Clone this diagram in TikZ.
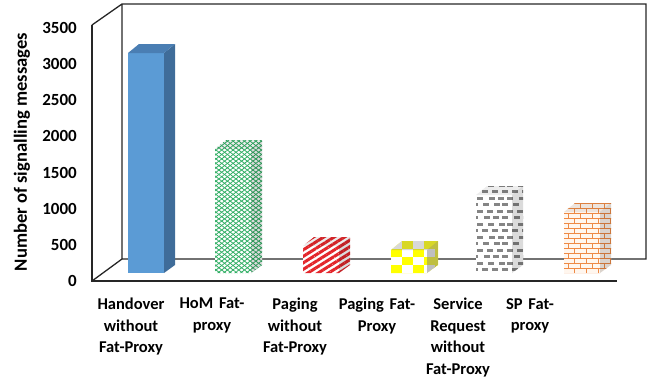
\documentclass[tikz,border=0pt]{standalone}
\usepackage{fontspec}
\setmainfont{Carlito}
\usetikzlibrary{patterns.meta}

\definecolor{barblue}{HTML}{5B9BD5}
\definecolor{barblueside}{HTML}{3F6C99}
\definecolor{barbluetop}{HTML}{4A7EB3}
\definecolor{latgreen}{HTML}{2FAE63}
\definecolor{stripered}{HTML}{E3262B}
\definecolor{chkyellow}{HTML}{FFFF00}
\definecolor{dashgray}{HTML}{858585}
\definecolor{brickorange}{HTML}{EE8A45}
\definecolor{brickbg}{HTML}{FFF6EE}

% corner coordinates of a 3-D column: #1 prefix, #2 left x, #3 top y of front face
\newcommand\colcorners[3]{%
  \coordinate (#1-a) at (#2,273);
  \coordinate (#1-b) at (#2+36,273);
  \coordinate (#1-c) at (#2+36,#3);
  \coordinate (#1-d) at (#2,#3);
  \coordinate (#1-e) at (#2+47,265);
  \coordinate (#1-f) at (#2+47,#3-9);
  \coordinate (#1-g) at (#2+11,#3-9);
}
\newcommand\colhull[1]{(#1-a) -- (#1-b) -- (#1-e) -- (#1-f) -- (#1-g) -- (#1-d) -- cycle}
\newcommand\colfront[1]{(#1-a) -- (#1-b) -- (#1-c) -- (#1-d) -- cycle}
\newcommand\colside[1]{(#1-b) -- (#1-e) -- (#1-f) -- (#1-c) -- cycle}
\newcommand\coltop[1]{(#1-d) -- (#1-c) -- (#1-f) -- (#1-g) -- cycle}
% darken side and top faces of a patterned column
\newcommand\colshade[1]{%
  \fill[black,opacity=0.14] \colside{#1};
  \fill[black,opacity=0.07] \coltop{#1};
}

\begin{document}
\begin{tikzpicture}[x=1pt,y=-1pt,
  font=\bfseries\fontsize{16.5}{21.5}\selectfont,
  axisline/.style={line width=1.3pt,black!85},
  ticklabel/.style={anchor=east,inner sep=0pt,font=\bfseries\fontsize{17}{20}\selectfont},
  catlabel/.style={anchor=north,align=center,inner sep=0pt,
    execute at begin node={\spaceskip=0.35em plus 0.1em\relax}}]
\useasboundingbox (0,0) rectangle (650,381);

% chart frame: back wall, left wall and floor edges
\draw[axisline] (92,25) -- (122,4) -- (646,4) -- (646,259) -- (122,259) -- (122,4);
\draw[axisline] (92,25) -- (92,281) -- (617,281);
\draw[axisline] (92,281) -- (122,259);

% value axis labels
\foreach \v in {0,500,...,3500}{
  \node[ticklabel] (tick\v) at (77,{281-\v*0.072286}) {\v};
}
\node[rotate=90,font=\bfseries\fontsize{18.6}{22}\selectfont] (ytitle) at (22,152) {Number of signalling messages};

% column 1: solid blue
\colcorners{c1}{128}{53}
\fill[barblue] \colfront{c1};
\fill[barblueside] \colside{c1};
\fill[barbluetop] \coltop{c1};

% column 2: green lattice
\colcorners{c2}{215}{149}
\fill[white] \colhull{c2};
\fill[pattern={Lines[angle=38,distance=3.5pt,line width=0.8pt]},pattern color=latgreen] \colhull{c2};
\fill[pattern={Lines[angle=-38,distance=3.5pt,line width=0.8pt]},pattern color=latgreen] \colhull{c2};
\colshade{c2}

% column 3: red wide stripes
\colcorners{c3}{303}{246}
\fill[white] \colhull{c3};
\fill[pattern={Lines[angle=32,distance=5.5pt,line width=3pt]},pattern color=stripered] \colhull{c3};
\colshade{c3}

% column 4: yellow checkerboard
\colcorners{c4}{391}{250}
\begin{scope}
  \clip \colhull{c4};
  \fill[chkyellow] (385,230) rectangle (445,280);
  \foreach \i in {0,...,4}{
    \foreach \j in {0,...,3}{
      \pgfmathtruncatemacro\k{mod(\i+\j,2)}
      \ifnum\k=0 \fill[white] (391+11*\i-11,273-8*\j) rectangle ++(11,-8); \fi
    }
  }
  \fill[gray,opacity=0.5] \colside{c4};
  \fill[gray,opacity=0.3] \coltop{c4};
\end{scope}

% column 5: gray dashes
\colcorners{c5}{476}{195}
\begin{scope}
  \clip \colhull{c5};
  \fill[white] (470,180) rectangle (530,280);
  \foreach \r in {0,...,15}{
    \foreach \c in {0,...,5}{
      \fill[dashgray] ({476+10*\c+5*mod(\r,2)-4+mod(\r*\c,3)},{273-6.5*\r-2}) rectangle ++(5.5,-2.6);
    }
  }
\end{scope}
\colshade{c5}

% column 6: orange bricks
\colcorners{c6}{564}{212}
\begin{scope}
  \clip \colhull{c6};
  \fill[brickbg] (558,195) rectangle (620,280);
  \foreach \r in {0,...,16}{
    \draw[brickorange,line width=0.9pt] (558,273-5*\r) -- ++(64,0);
    \foreach \c in {0,...,5}{
      \draw[brickorange,line width=0.9pt] ({562+12*\c+6*mod(\r,2)},273-5*\r) -- ++(0,-5);
    }
  }
\end{scope}
\colshade{c6}

% category labels
\node[catlabel] (cat1) at (131,298) {Handover\\without\\Fat-Proxy};
\node[catlabel] (cat2) at (212,298) {HoM Fat-\\proxy};
\node[catlabel] (cat3) at (295,298) {Paging\\without\\Fat-Proxy};
\node[catlabel] (cat4) at (377,298) {Paging Fat-\\Proxy};
\node[catlabel] (cat5) at (458,298) {Service\\Request\\without\\Fat-Proxy};
\node[catlabel] (cat6) at (530,298) {SP Fat-\\proxy};
\end{tikzpicture}
\end{document}
